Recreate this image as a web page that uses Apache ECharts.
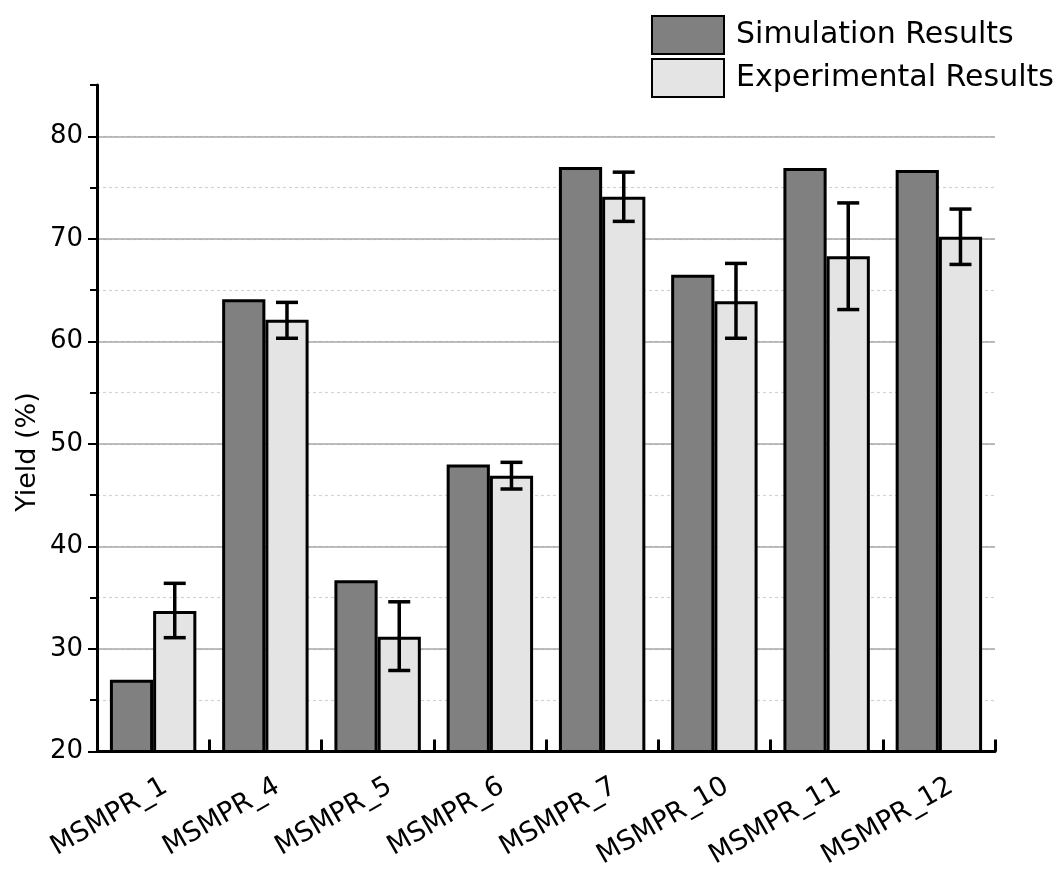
<!DOCTYPE html>
<html>
<head>
<meta charset="utf-8">
<script src="https://cdn.jsdelivr.net/npm/echarts@6/dist/echarts.min.js"></script>
<style>html,body{margin:0;padding:0;background:#fff;}#chart{width:1064px;height:871px;}</style>
</head>
<body>
<div id="chart"></div>
<script>
const categories = ['MSMPR_1','MSMPR_4','MSMPR_5','MSMPR_6','MSMPR_7','MSMPR_10','MSMPR_11','MSMPR_12'];
const simulation = [27.0, 64.1, 36.7, 48.0, 77.0, 66.5, 76.9, 76.7];
const experimental = [33.7, 62.1, 31.2, 46.9, 74.1, 63.9, 68.3, 70.2];
const expLow = [31.1, 60.3, 27.9, 45.6, 71.7, 60.3, 63.1, 67.5];
const expHigh = [36.4, 63.8, 34.6, 48.2, 76.5, 67.6, 73.5, 72.9];
const yTickValues = [20, 30, 40, 50, 60, 70, 80];

const FONT = 'DejaVu Sans';
const CAT_GAP = 0.23;
const errData = categories.map((c, i) => [i, expLow[i], expHigh[i]]);

const chart = echarts.init(document.getElementById('chart'), null, {renderer: 'canvas'});
chart.setOption({
  backgroundColor: '#ffffff',
  animation: false,
  grid: {left: 97, right: 69, top: 85, bottom: 117, containLabel: false},
  legend: {
    orient: 'vertical', left: 646, top: 10,
    itemWidth: 72, itemHeight: 38, itemGap: 3,
    data: ['Simulation Results', 'Experimental Results'],
    textStyle: {fontFamily: FONT, fontSize: 30, color: '#000', padding: [0, 0, 0, 7]},
    icon: 'rect'
  },
  graphic: [{
    type: 'text', x: 28, y: 452, rotation: Math.PI / 2,
    style: {text: 'Yield (%)', font: '27px "DejaVu Sans"', fill: '#000', align: 'center', verticalAlign: 'middle'}
  }],
  xAxis: {
    type: 'category', data: categories, z: 5,
    axisLine: {show: true, lineStyle: {color: '#000', width: 3}},
    axisTick: {show: true, inside: true, length: 12, lineStyle: {color: '#000', width: 3}},
    axisLabel: {interval: 0, rotate: 30, margin: 40, fontFamily: FONT, fontSize: 27, color: '#000', padding: [0, -14, 0, 0]},
    splitLine: {show: false}
  },
  yAxis: [{
    type: 'value', min: 20, max: 85, interval: 10, z: 1,
    axisLine: {show: true, lineStyle: {color: '#000', width: 3}},
    axisTick: {show: true, length: 9, lineStyle: {color: '#000', width: 2}},
    axisLabel: {margin: 14, fontFamily: FONT, fontSize: 26, color: '#000', showMaxLabel: false,
      formatter: v => (yTickValues.indexOf(v) >= 0 ? String(v) : '')},
    splitLine: {show: true, showMinLine: false, showMaxLine: false, lineStyle: {color: '#a8a8a8', width: 1.5}}
  }, {
    type: 'value', min: 20, max: 85, interval: 5, position: 'left', z: 0,
    axisLine: {show: false},
    axisTick: {show: true, length: 7, lineStyle: {color: '#000', width: 2}},
    axisLabel: {show: false},
    splitLine: {show: true, showMinLine: false, showMaxLine: false, lineStyle: {color: '#d2d2d2', width: 1.2, type: [3, 3]}}
  }],
  series: [{
    name: 'Simulation Results', type: 'bar', data: simulation, yAxisIndex: 0,
    barGap: '0%', barCategoryGap: (CAT_GAP * 100) + '%', z: 2,
    itemStyle: {color: '#808080', borderColor: '#000', borderWidth: 3}
  }, {
    name: 'Experimental Results', type: 'bar', data: experimental, yAxisIndex: 0,
    barGap: '0%', barCategoryGap: (CAT_GAP * 100) + '%', z: 2,
    itemStyle: {color: '#e4e4e4', borderColor: '#000', borderWidth: 3}
  }, {
    type: 'custom', data: errData, yAxisIndex: 0, z: 4,
    encode: {x: 0, y: [1, 2]},
    renderItem: function (params, api) {
      const idx = api.value(0);
      const hi = api.coord([idx, api.value(2)]);
      const lo = api.coord([idx, api.value(1)]);
      const bw = api.size([1, 0])[0] * (1 - CAT_GAP) / 2;
      const x = hi[0] + bw / 2;
      const cap = 11;
      const st = {stroke: '#000', lineWidth: 3.5, fill: null};
      return {type: 'group', children: [
        {type: 'line', shape: {x1: x, y1: hi[1], x2: x, y2: lo[1]}, style: st},
        {type: 'line', shape: {x1: x - cap, y1: hi[1], x2: x + cap, y2: hi[1]}, style: st},
        {type: 'line', shape: {x1: x - cap, y1: lo[1], x2: x + cap, y2: lo[1]}, style: st}
      ]};
    }
  }]
});
</script>
</body>
</html>
